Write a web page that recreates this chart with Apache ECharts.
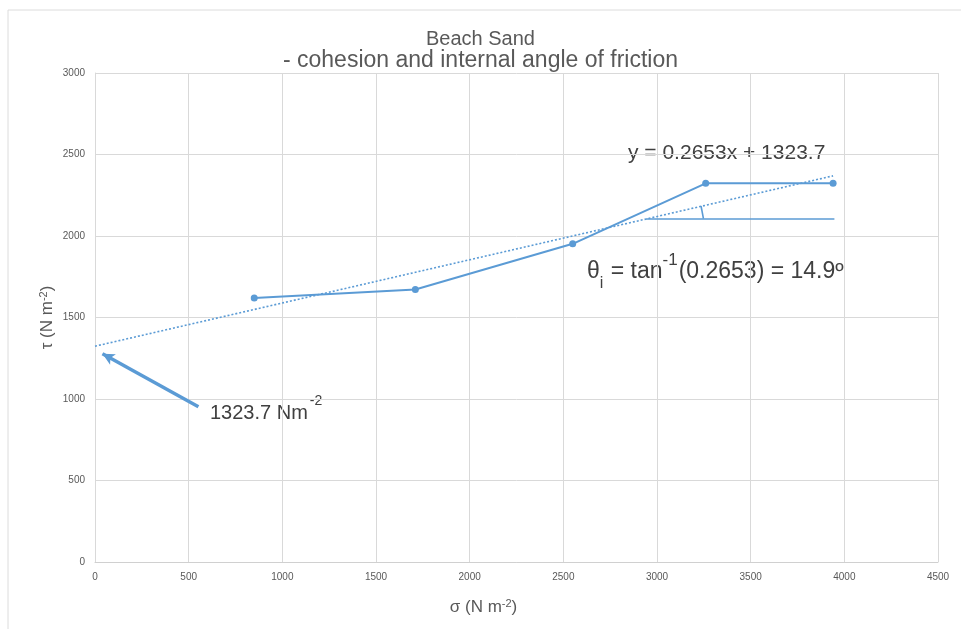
<!DOCTYPE html>
<html>
<head>
<meta charset="utf-8">
<script src="https://cdn.jsdelivr.net/npm/echarts@6/dist/echarts.min.js"></script>
<style>html,body{margin:0;padding:0;background:#fff}#c{width:961px;height:629px}</style>
</head>
<body>
<div id="c"></div>
<script>
// ---- data ----
var sigma = [850, 1710, 2550, 3260, 3940];      // normal stress (N m-2)
var tau = [1620, 1672, 1952, 2323, 2323];       // shear stress (N m-2)
var slope = 0.2653;
var intercept = 1323.7;
var xTicks = [0, 500, 1000, 1500, 2000, 2500, 3000, 3500, 4000, 4500];
var yTicks = [0, 500, 1000, 1500, 2000, 2500, 3000];

var blue = '#5b9bd5';
var pts = sigma.map(function (x, i) { return [x, tau[i]]; });
var xEnd = Math.max.apply(null, sigma);
var trend = [[0, intercept], [xEnd, slope * xEnd + intercept]];

var chart = echarts.init(document.getElementById('c'), null, {renderer: 'canvas'});
var txt = '#404040';
var sans = '"Liberation Sans", Arial, sans-serif';
var supRich = {
  n: {fontSize: 17, color: '#595959', fontFamily: sans},
  s: {fontSize: 11, color: '#595959', fontFamily: sans, verticalAlign: 'top', padding: [0, 0, 8, 0]}
};
function plain(v) { return String(v); }
chart.setOption({
  animation: false,
  backgroundColor: '#fff',
  title: {
    text: '{a|Beach Sand}\n{b|- cohesion and internal angle of friction}',
    left: 'center', top: 23,
    textStyle: {
      fontWeight: 'normal', color: '#595959', fontFamily: sans,
      rich: {
        a: {fontSize: 20, color: '#595959', fontFamily: sans, lineHeight: 22},
        b: {fontSize: 23, color: '#595959', fontFamily: sans, lineHeight: 22}
      }
    }
  },
  grid: {left: 95, right: 23, top: 73, bottom: 67},
  xAxis: {
    type: 'value', min: xTicks[0], max: xTicks[xTicks.length - 1], interval: 500,
    axisLine: {lineStyle: {color: '#d0d0d0'}},
    axisTick: {show: false},
    splitLine: {lineStyle: {color: '#d9d9d9'}},
    axisLabel: {color: '#595959', fontSize: 10, margin: 10, fontFamily: sans, formatter: plain},
    name: '{n|σ (N m}{s|-2}{n|)}',
    nameLocation: 'middle', nameGap: 36, nameMoveOverlap: false,
    nameTextStyle: {rich: supRich, padding: [0, 66, 0, 0]}
  },
  yAxis: {
    type: 'value', min: yTicks[0], max: yTicks[yTicks.length - 1], interval: 500,
    axisLine: {show: true, lineStyle: {color: '#d9d9d9'}},
    axisTick: {show: false},
    splitLine: {lineStyle: {color: '#d9d9d9'}},
    axisLabel: {color: '#595959', fontSize: 10, margin: 10, fontFamily: sans, formatter: plain},
    name: '{n|τ (N m}{s|-2}{n|)}',
    nameLocation: 'middle', nameGap: 38, nameMoveOverlap: false,
    nameTextStyle: {rich: supRich}
  },
  series: [
    {
      type: 'line', data: pts, symbol: 'circle', symbolSize: 7,
      lineStyle: {color: blue, width: 2}, itemStyle: {color: blue}, z: 3
    },
    {
      type: 'line', data: trend, symbol: 'none',
      lineStyle: {color: blue, width: 1.6, type: [2, 2]}, z: 2,
      markLine: {
        silent: true, symbol: ['none', 'none'], label: {show: false},
        lineStyle: {color: blue, width: 1.6, type: 'solid'},
        data: [
          [{coord: [2942, 2106]}, {coord: [3947, 2106]}],
          [{coord: [3248, 2106]}, {coord: [3235, 2184]}]
        ]
      }
    },
    {
      type: 'line', data: [], symbol: 'none',
      markLine: {
        silent: true, symbol: ['none', 'arrow'], symbolSize: [9, 12], label: {show: false},
        lineStyle: {color: blue, width: 3.5, type: 'solid'},
        data: [[{coord: [552, 953]}, {coord: [40, 1278]}]]
      }
    }
  ],
  graphic: [
    {type: 'rect', shape: {x: 8, y: 10, width: 1000, height: 700}, style: {fill: 'none', stroke: '#dcdcdc', lineWidth: 1}, silent: true},
    {type: 'text', left: 628, top: 143, style: {text: 'y = 0.2653x + 1323.7', font: '21px ' + sans, fill: txt}},
    {type: 'text', left: 587, top: 252, style: {
      text: '{a|θ}{b|i}{a| = tan}{c|-1}{a|(0.2653) = 14.9º}',
      rich: {
        a: {fontSize: 23, fill: txt, fontFamily: sans, lineHeight: 40},
        b: {fontSize: 16, fill: txt, fontFamily: sans, verticalAlign: 'bottom', lineHeight: 40, padding: [0, 1, 0, 0]},
        c: {fontSize: 17, fill: txt, fontFamily: sans, verticalAlign: 'top', lineHeight: 18, padding: [0, 1, 0, 0]}
      }
    }},
    {type: 'text', left: 210, top: 394, style: {
      text: '{a|1323.7 Nm}{c|-2}',
      rich: {
        a: {fontSize: 20, fill: txt, fontFamily: sans, lineHeight: 38},
        c: {fontSize: 14, fill: txt, fontFamily: sans, verticalAlign: 'top', lineHeight: 16, padding: [0, 0, 0, 2]}
      }
    }}
  ]
});
</script>
</body>
</html>
